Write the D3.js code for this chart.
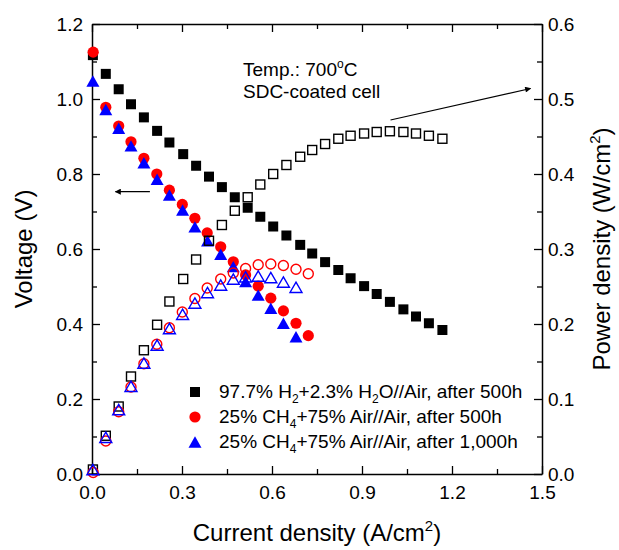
<!DOCTYPE html>
<html>
<head>
<meta charset="utf-8">
<script src="https://cdn.jsdelivr.net/npm/d3@7"></script>
<style>
  body { margin: 0; background: #fff; }
  svg { font-family: "Liberation Sans", Arial, sans-serif; }
</style>
</head>
<body>
<div id="chart"></div>
<script>
// current density (A/cm2), voltage (V), power density (W/cm2)
const currentH2 = [0.003, 0.046, 0.089, 0.130, 0.173, 0.217, 0.258, 0.304, 0.347, 0.390, 0.433, 0.476, 0.519, 0.561,
    0.604, 0.648, 0.694, 0.734, 0.777, 0.821, 0.862, 0.907, 0.949, 0.993, 1.038, 1.080, 1.123, 1.168];
const voltageH2 = [1.117, 1.067, 1.026, 0.986, 0.951, 0.915, 0.884, 0.853, 0.822, 0.793, 0.765, 0.738, 0.710, 0.686,
    0.660, 0.636, 0.611, 0.588, 0.565, 0.544, 0.522, 0.501, 0.480, 0.459, 0.439, 0.420, 0.402, 0.384];
const powerH2 = [0.006, 0.051, 0.090, 0.130, 0.165, 0.199, 0.230, 0.260, 0.286, 0.311, 0.332, 0.351, 0.369, 0.386,
    0.400, 0.412, 0.423, 0.432, 0.440, 0.447, 0.451, 0.454, 0.456, 0.457, 0.456, 0.454, 0.451, 0.447];

const currentCH4a = [0.004, 0.046, 0.089, 0.130, 0.173, 0.216, 0.258, 0.301, 0.343, 0.384, 0.429, 0.471, 0.512, 0.554,
    0.596, 0.638, 0.680, 0.721];
const voltageCH4a = [1.125, 0.978, 0.928, 0.886, 0.842, 0.800, 0.757, 0.719, 0.682, 0.643, 0.606, 0.566, 0.531, 0.501,
    0.469, 0.435, 0.402, 0.369];
const powerCH4a = [0.002, 0.044, 0.083, 0.116, 0.147, 0.173, 0.195, 0.216, 0.234, 0.248, 0.260, 0.268, 0.274, 0.279,
    0.280, 0.278, 0.273, 0.267];

const currentCH4b = [0.003, 0.046, 0.089, 0.130, 0.173, 0.217, 0.258, 0.302, 0.343, 0.385, 0.429, 0.471, 0.512, 0.554,
    0.596, 0.638, 0.680];
const voltageCH4b = [1.048, 0.972, 0.922, 0.875, 0.830, 0.786, 0.744, 0.704, 0.659, 0.622, 0.586, 0.553, 0.513, 0.477,
    0.442, 0.402, 0.366];
const powerCH4b = [0.006, 0.049, 0.086, 0.117, 0.148, 0.172, 0.194, 0.213, 0.228, 0.242, 0.252, 0.260, 0.263, 0.264,
    0.262, 0.256, 0.249];

const xTicks = [0, 0.3, 0.6, 0.9, 1.2, 1.5];
const yTicks = [0, 0.2, 0.4, 0.6, 0.8, 1.0, 1.2];
const y2Ticks = [0, 0.1, 0.2, 0.3, 0.4, 0.5, 0.6];

const width = 619, height = 550;
const margin = {left: 92, right: 77, top: 24, bottom: 76};

const svg = d3.select("#chart").append("svg")
    .attr("width", width)
    .attr("height", height);

const x = d3.scaleLinear().domain([0, 1.5]).range([margin.left, width - margin.right]);
const y = d3.scaleLinear().domain([0, 1.2]).range([height - margin.bottom, margin.top]);
const y2 = d3.scaleLinear().domain([0, 0.6]).range([height - margin.bottom, margin.top]);

// axes: major ticks inward, minor ticks between
function minor(ticks) {
    const out = [];
    for (let i = 0; i < ticks.length - 1; i++) out.push((ticks[i] + ticks[i + 1]) / 2);
    return out;
}

function styleAxis(g) {
    g.select(".domain").attr("stroke", "#000").attr("stroke-width", 1.5);
    g.selectAll(".tick line").attr("stroke", "#000").attr("stroke-width", 1.3);
    g.selectAll(".tick text").attr("font-size", 19).attr("fill", "#000");
}

const plotBottom = height - margin.bottom, plotTop = margin.top;

svg.append("g").attr("transform", `translate(0,${plotBottom})`)
    .call(d3.axisBottom(x).tickValues(xTicks).tickFormat(d3.format(".1f")).tickSizeInner(-8).tickSizeOuter(0).tickPadding(12))
    .call(styleAxis);
svg.append("g").attr("transform", `translate(0,${plotBottom})`)
    .call(d3.axisBottom(x).tickValues(minor(xTicks)).tickFormat("").tickSizeInner(-5).tickSizeOuter(0))
    .call(g => g.select(".domain").remove()).call(styleAxis);
svg.append("g").attr("transform", `translate(0,${plotTop})`)
    .call(d3.axisTop(x).tickValues(xTicks).tickFormat("").tickSizeInner(-8).tickSizeOuter(0))
    .call(styleAxis);
svg.append("g").attr("transform", `translate(0,${plotTop})`)
    .call(d3.axisTop(x).tickValues(minor(xTicks)).tickFormat("").tickSizeInner(-5).tickSizeOuter(0))
    .call(g => g.select(".domain").remove()).call(styleAxis);

svg.append("g").attr("transform", `translate(${margin.left},0)`)
    .call(d3.axisLeft(y).tickValues(yTicks).tickFormat(d3.format(".1f")).tickSizeInner(-8).tickSizeOuter(0).tickPadding(9))
    .call(styleAxis);
svg.append("g").attr("transform", `translate(${margin.left},0)`)
    .call(d3.axisLeft(y).tickValues(minor(yTicks)).tickFormat("").tickSizeInner(-5).tickSizeOuter(0))
    .call(g => g.select(".domain").remove()).call(styleAxis);

svg.append("g").attr("transform", `translate(${width - margin.right},0)`)
    .call(d3.axisRight(y2).tickValues(y2Ticks).tickFormat(d3.format(".1f")).tickSizeInner(-8).tickSizeOuter(0).tickPadding(6))
    .call(styleAxis);
svg.append("g").attr("transform", `translate(${width - margin.right},0)`)
    .call(d3.axisRight(y2).tickValues(minor(y2Ticks)).tickFormat("").tickSizeInner(-5).tickSizeOuter(0))
    .call(g => g.select(".domain").remove()).call(styleAxis);

// axis titles
const xt = svg.append("text")
    .attr("x", (x(0) + x(1.5)) / 2).attr("y", 541)
    .attr("text-anchor", "middle").attr("font-size", 24);
xt.append("tspan").text("Current density (A/cm");
xt.append("tspan").text("2").attr("font-size", 15).attr("dy", -10);
xt.append("tspan").text(")").attr("dy", 10);

svg.append("text")
    .attr("transform", `translate(32,${(plotTop + plotBottom) / 2}) rotate(-90)`)
    .attr("text-anchor", "middle").attr("font-size", 24)
    .text("Voltage (V)");

const yt = svg.append("text")
    .attr("transform", `translate(610,${(plotTop + plotBottom) / 2}) rotate(-90)`)
    .attr("text-anchor", "middle").attr("font-size", 24);
yt.append("tspan").text("Power density (W/cm");
yt.append("tspan").text("2").attr("font-size", 15).attr("dy", -10);
yt.append("tspan").text(")").attr("dy", 10);

// markers
function triPath(s) {
    const h = s * Math.sqrt(3) / 2;
    return `M0,${-h / 2}L${s / 2},${h / 2}L${-s / 2},${h / 2}Z`;
}

function drawFilled(cur, val, scale, shape, color) {
    const pts = cur.map((c, i) => [c, val[i]]);
    const g = svg.append("g");
    if (shape === "square") {
        g.selectAll("rect").data(pts).join("rect")
            .attr("x", d => x(d[0]) - 5).attr("y", d => scale(d[1]) - 5)
            .attr("width", 10).attr("height", 10).attr("fill", color);
    } else if (shape === "circle") {
        g.selectAll("circle").data(pts).join("circle")
            .attr("cx", d => x(d[0])).attr("cy", d => scale(d[1])).attr("r", 5.6).attr("fill", color);
    } else {
        g.selectAll("path").data(pts).join("path")
            .attr("transform", d => `translate(${x(d[0])},${scale(d[1])})`)
            .attr("d", triPath(13)).attr("fill", color);
    }
}

function drawOpen(cur, val, scale, shape, color) {
    const pts = cur.map((c, i) => [c, val[i]]);
    const g = svg.append("g").attr("fill", "none").attr("stroke", color).attr("stroke-width", 1.4);
    if (shape === "square") {
        g.selectAll("rect").data(pts).join("rect")
            .attr("x", d => x(d[0]) - 4.5).attr("y", d => scale(d[1]) - 4.5)
            .attr("width", 9).attr("height", 9);
    } else if (shape === "circle") {
        g.selectAll("circle").data(pts).join("circle")
            .attr("cx", d => x(d[0])).attr("cy", d => scale(d[1])).attr("r", 5);
    } else {
        g.selectAll("path").data(pts).join("path")
            .attr("transform", d => `translate(${x(d[0])},${scale(d[1])})`)
            .attr("d", triPath(12));
    }
}

drawFilled(currentH2, voltageH2, y, "square", "#000");
drawFilled(currentCH4a, voltageCH4a, y, "circle", "#ff0000");
drawFilled(currentCH4b, voltageCH4b, y, "triangle", "#0000ff");
drawOpen(currentH2, powerH2, y2, "square", "#000");
drawOpen(currentCH4a, powerCH4a, y2, "circle", "#ff0000");
drawOpen(currentCH4b, powerCH4b, y2, "triangle", "#0000ff");

// arrows
svg.append("defs").append("marker")
    .attr("id", "head").attr("viewBox", "0 0 10 10")
    .attr("refX", 9).attr("refY", 5)
    .attr("markerWidth", 9).attr("markerHeight", 6)
    .attr("markerUnits", "userSpaceOnUse")
    .attr("orient", "auto")
    .append("path").attr("d", "M0,0L10,5L0,10Z").attr("fill", "#000");

svg.append("line")
    .attr("x1", x(0.193)).attr("y1", y(0.753))
    .attr("x2", x(0.078)).attr("y2", y(0.753))
    .attr("stroke", "#000").attr("stroke-width", 1.2)
    .attr("marker-end", "url(#head)");

svg.append("line")
    .attr("x1", x(0.995)).attr("y1", y2(0.472))
    .attr("x2", x(1.462)).attr("y2", y2(0.514))
    .attr("stroke", "#000").attr("stroke-width", 1.2)
    .attr("marker-end", "url(#head)");

// annotation
const note = svg.append("text").attr("font-size", 19).attr("fill", "#000");
note.append("tspan").attr("x", 243).attr("y", 76).text("Temp.: 700");
note.append("tspan").text("o").attr("font-size", 12).attr("dy", -8);
note.append("tspan").text("C").attr("dy", 8);
svg.append("text").attr("font-size", 19).attr("x", 243).attr("y", 98).text("SDC-coated cell");

// legend
const legend = svg.append("g").attr("font-size", 19);
const legendRows = [
    {shape: "square", color: "#000", parts: [["97.7% H", 0], ["2", 1], ["+2.3% H", 0], ["2", 1], ["O//Air, after 500h", 0]]},
    {shape: "circle", color: "#ff0000", parts: [["25% CH", 0], ["4", 1], ["+75% Air//Air, after 500h", 0]]},
    {shape: "triangle", color: "#0000ff", parts: [["25% CH", 0], ["4", 1], ["+75% Air//Air, after 1,000h", 0]]}
];
legendRows.forEach((row, i) => {
    const cy = 392 + i * 25;
    if (row.shape === "square") {
        legend.append("rect").attr("x", 190).attr("y", cy - 5).attr("width", 10).attr("height", 10).attr("fill", row.color);
    } else if (row.shape === "circle") {
        legend.append("circle").attr("cx", 195).attr("cy", cy).attr("r", 5.6).attr("fill", row.color);
    } else {
        legend.append("path").attr("transform", `translate(195,${cy})`).attr("d", triPath(13)).attr("fill", row.color);
    }
    const t = legend.append("text").attr("x", 219).attr("y", cy + 6);
    let shift = 0;
    row.parts.forEach(([txt, sub]) => {
        const dy = sub ? 5 - shift : -shift;
        shift = sub ? 5 : 0;
        t.append("tspan").text(txt).attr("font-size", sub ? 12 : 19).attr("dy", dy);
    });
});
</script>
</body>
</html>
